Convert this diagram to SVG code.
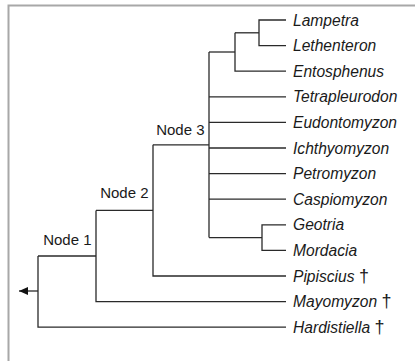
<svg xmlns="http://www.w3.org/2000/svg" width="415" height="361" viewBox="0 0 415 361">
  <defs>
    <style>
      .frame { fill: none; stroke: #a8a8a8; stroke-width: 2; }
      .br { fill: none; stroke: #2a2a2a; stroke-width: 1.3; }
      .tx { font-family: "Liberation Sans", Arial, sans-serif; font-size: 15.6px; font-style: italic; fill: #1a1a1a; }
      .nl { font-family: "Liberation Sans", Arial, sans-serif; font-size: 15px; fill: #1a1a1a; text-anchor: end; }
      .dg { font-style: normal; font-size: 18px; }
    </style>
    <marker id="ah" markerWidth="10" markerHeight="10" refX="9" refY="4" orient="auto" markerUnits="userSpaceOnUse">
      <path d="M0,0 L9,4 L0,8 Z" fill="#111"/>
    </marker>
  </defs>
  <rect width="415" height="361" fill="#fff"/>
  <path class="frame" d="M8.5,361 L8.5,5.5 L415,5.5"/>

  <g id="connectors">
    <path class="br" d="M286,20 H259 V45.6 H286"/>
    <path class="br" d="M235,32.8 H259"/>
    <path class="br" d="M235,32.8 V71.2 H286"/>
    <path class="br" d="M209,52 H235"/>
    <path class="br" d="M209,52 V237.6"/>
    <path class="br" d="M209,96.8 H286"/>
    <path class="br" d="M209,122.4 H286"/>
    <path class="br" d="M209,148 H286"/>
    <path class="br" d="M209,173.6 H286"/>
    <path class="br" d="M209,199.2 H286"/>
    <path class="br" d="M209,237.6 H262"/>
    <path class="br" d="M286,224.8 H262 V250.4 H286"/>
    <path class="br" d="M153,144.8 H209"/>
    <path class="br" d="M153,144.8 V276 H286"/>
    <path class="br" d="M96,210.4 H153"/>
    <path class="br" d="M96,210.4 V301.6 H286"/>
    <path class="br" d="M38,256 H96"/>
    <path class="br" d="M38,256 V327.2 H286"/>
    <path class="br" d="M38,291 H19" marker-end="url(#ah)"/>
  </g>

  <g id="node1"><text class="nl" x="91.5" y="245">Node 1</text></g>
  <g id="node2"><text class="nl" x="148.5" y="198">Node 2</text></g>
  <g id="node3"><text class="nl" x="204.5" y="135">Node 3</text></g>

  <g id="lampetra"><text class="tx" x="293" y="25.5">Lampetra</text></g>
  <g id="lethenteron"><text class="tx" x="293" y="51.1">Lethenteron</text></g>
  <g id="entosphenus"><text class="tx" x="293" y="76.7">Entosphenus</text></g>
  <g id="tetrapleurodon"><text class="tx" x="293" y="102.3">Tetrapleurodon</text></g>
  <g id="eudontomyzon"><text class="tx" x="293" y="127.9">Eudontomyzon</text></g>
  <g id="ichthyomyzon"><text class="tx" x="293" y="153.5">Ichthyomyzon</text></g>
  <g id="petromyzon"><text class="tx" x="293" y="179.1">Petromyzon</text></g>
  <g id="caspiomyzon"><text class="tx" x="293" y="204.7">Caspiomyzon</text></g>
  <g id="geotria"><text class="tx" x="293" y="230.3">Geotria</text></g>
  <g id="mordacia"><text class="tx" x="293" y="255.9">Mordacia</text></g>
  <g id="pipiscius"><text class="tx" x="293" y="281.5">Pipiscius <tspan class="dg">†</tspan></text></g>
  <g id="mayomyzon"><text class="tx" x="293" y="307.1">Mayomyzon <tspan class="dg">†</tspan></text></g>
  <g id="hardistiella"><text class="tx" x="293" y="332.7">Hardistiella <tspan class="dg">†</tspan></text></g>
</svg>
